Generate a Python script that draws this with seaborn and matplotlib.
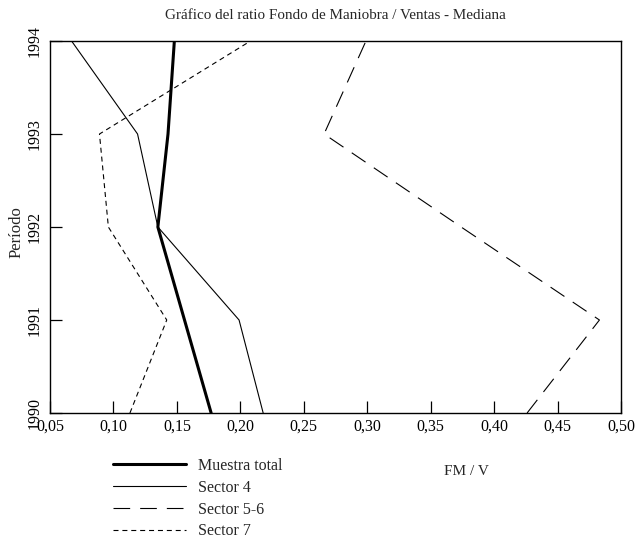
import matplotlib
matplotlib.use("Agg")
import matplotlib.pyplot as plt
from matplotlib.ticker import FuncFormatter, FixedLocator
import seaborn as sns
import pandas as pd

# Median FM/V ratio per year
years = [1990, 1991, 1992, 1993, 1994]
muestra_total = [0.177, 0.156, 0.135, 0.143, 0.148]
sector_4 = [0.218, 0.199, 0.135, 0.119, 0.067]
sector_5_6 = [0.426, 0.483, 0.374, 0.266, 0.299]
sector_7 = [0.113, 0.142, 0.096, 0.089, 0.208]

series_names = ["Muestra total", "Sector 4", "Sector 5-6", "Sector 7"]
series_values = [muestra_total, sector_4, sector_5_6, sector_7]

x_ticks = [0.05, 0.10, 0.15, 0.20, 0.25, 0.30, 0.35, 0.40, 0.45, 0.50]

title = "Gráfico del ratio Fondo de Maniobra / Ventas - Mediana"
x_label = "FM / V"
y_label = "Período"

sns.set_style("ticks")
plt.rcParams["font.family"] = ["Liberation Serif", "DejaVu Serif"]
plt.rcParams["font.size"] = 11.5

styles = {
    "Muestra total": dict(linewidth=2.2, linestyle="-"),
    "Sector 4": dict(linewidth=0.8, linestyle="-"),
    "Sector 5-6": dict(linewidth=0.8, linestyle=(0, (15, 9))),
    "Sector 7": dict(linewidth=0.8, linestyle=(0, (4.5, 3.5))),
}

frames = []
for name, vals in zip(series_names, series_values):
    frames.append(pd.DataFrame({"FM/V": vals, "Período": years, "Serie": name}))
df = pd.concat(frames, ignore_index=True)

fig = plt.figure(figsize=(6.38, 5.46), dpi=100)
ax = fig.add_axes([50 / 638, 1 - 413 / 546, (621 - 50) / 638, (413 - 41) / 546])

for name in series_names:
    sub = df[df["Serie"] == name]
    sns.lineplot(data=sub, x="FM/V", y="Período", sort=False, orient="y",
                 color="black", label=name, legend=False, ax=ax,
                 **styles[name])

if ax.get_legend() is not None:
    ax.get_legend().remove()

ax.set_xlim(0.05, 0.50)
ax.set_ylim(1990, 1994)
ax.xaxis.set_major_locator(FixedLocator(x_ticks))
ax.yaxis.set_major_locator(FixedLocator(years))
ax.xaxis.set_major_formatter(FuncFormatter(lambda v, p: f"{v:.2f}".replace(".", ",")))
ax.yaxis.set_major_formatter(FuncFormatter(lambda v, p: f"{int(round(v))}"))

ax.tick_params(axis="both", direction="in", length=8.5, width=0.9, colors="black",
               labelsize=11.5)
ax.tick_params(axis="x", pad=4)
ax.tick_params(axis="y", pad=5)
for lab in ax.get_yticklabels():
    lab.set_rotation(90)
    lab.set_va("center")

for sp in ax.spines.values():
    sp.set_visible(True)
    sp.set_color("black")
    sp.set_linewidth(1.0)

ax.set_title(title, fontsize=10.9, pad=16)
ax.set_xlabel(x_label, fontsize=11)
ax.xaxis.set_label_coords((466 - 50) / 571, (413 - 465) / 372)
ax.set_ylabel(y_label, fontsize=12)
ax.yaxis.set_label_coords((25 - 50) / 571, (413 - 232) / 372)

handles = ax.get_lines()[:len(series_names)]
fig.legend(handles, series_names, loc="upper left",
           bbox_to_anchor=(113 / 638, 1 - 458 / 546), frameon=False,
           fontsize=11.5, handlelength=4.6, handletextpad=0.75,
           labelspacing=0.36, borderpad=0, borderaxespad=0)

fig.savefig("out.png", dpi=100)
